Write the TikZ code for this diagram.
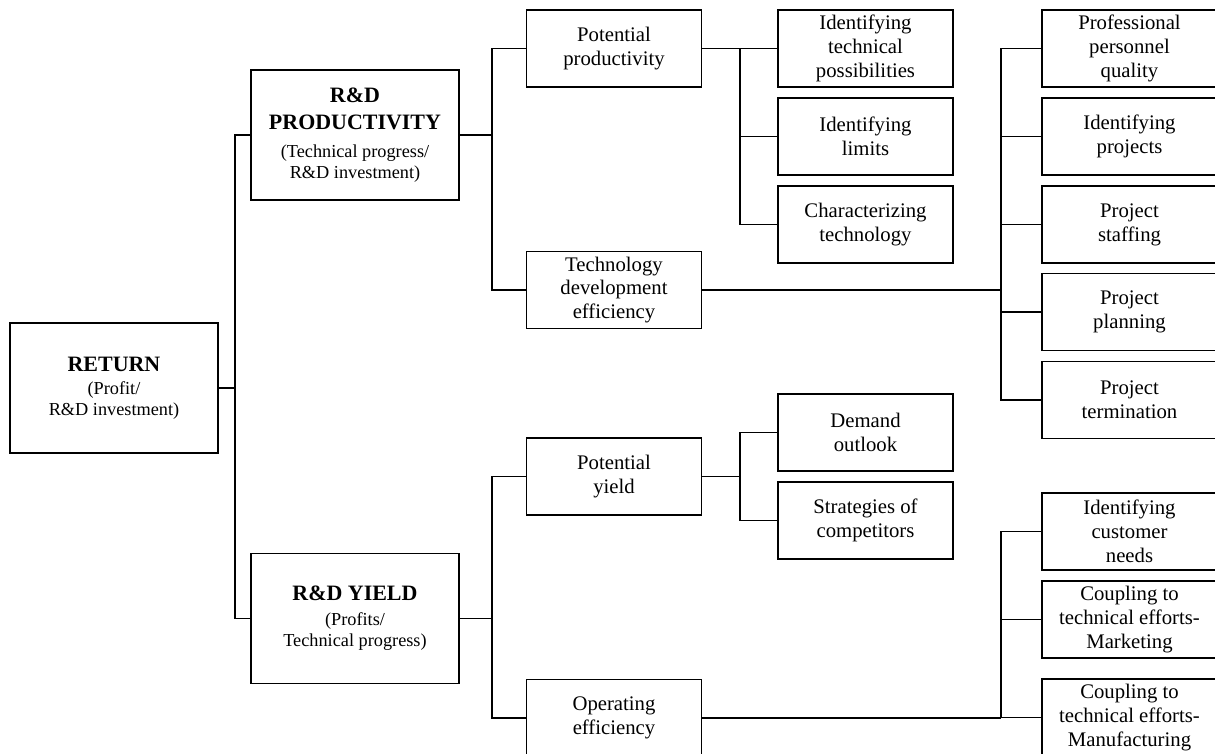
\documentclass[tikz,border=0pt]{standalone}
\usepackage{fontspec}
\setmainfont{Liberation Serif}
\usetikzlibrary{positioning}
\tikzset{
    box/.style = {rectangle, draw=black, line width=0.6pt, minimum width=3.5cm, minimum height=1.54cm, align=center, inner sep=1pt, font=\fontsize{11.8}{13.6}\selectfont},
    bigbox/.style = {box, minimum width=4.16cm, minimum height=2.6cm, font=\fontsize{10.4}{12}\selectfont},
    stem/.style = {line width=1.1pt}, % parent to junction
    branch/.style = {line width=0.6pt}, % junction to children
}
\newcommand{\boxtitle}[1]{{\fontsize{12.5}{15}\selectfont\bfseries #1}}

\begin{document}
\begin{tikzpicture}[x=0.02cm,y=-0.02cm]
\useasboundingbox (0,0) rectangle (1215,754);
\clip (0,0) rectangle (1215,754);
% junction columns
\coordinate (j1) at (235,0);
\coordinate (j2) at (492,0);
\coordinate (j3) at (740,0);
\coordinate (j4) at (1001,0);
%
\node[bigbox] at (114,388) (ret) {\boxtitle{RETURN}\\[1pt](Profit/\\R\&D investment)};
\node[bigbox] at (355,135) (prod) {\boxtitle{R\&D}\\[3.3pt]\boxtitle{PRODUCTIVITY}\\[3.9pt](Technical progress/\\R\&D investment)};
\node[bigbox] at (355,618.5) (yld) {\boxtitle{R\&D YIELD}\\[2pt](Profits/\\Technical progress)};
%
\node[box] at (614,48.5) (pprod) {Potential\\productivity};
\node[box] at (614,290) (tdev) {Technology\\development\\efficiency};
\node[box] at (614,476.5) (pyld) {Potential\\yield};
\node[box] at (614,718) (opeff) {Operating\\efficiency};
%
\node[box] at (865.5,48.5) (itech) {Identifying\\technical\\possibilities};
\node[box] at (865.5,136.5) (ilim) {Identifying\\limits};
\node[box] at (865.5,224.5) (ctech) {Characterizing\\technology};
\node[box] at (865.5,432.5) (dem) {Demand\\outlook};
\node[box] at (865.5,520.5) (strat) {Strategies of\\competitors};
%
\node[box] at (1129.5,48.5) (prof) {Professional\\personnel\\quality};
\node[box] at (1129.5,136.5) (iproj) {Identifying\\projects};
\node[box] at (1129.5,224.5) (staff) {Project\\staffing};
\node[box] at (1129.5,312) (plan) {Project\\planning};
\node[box] at (1129.5,400) (term) {Project\\termination};
\node[box] at (1129.5,531.5) (cust) {Identifying\\customer\\needs};
\node[box] at (1129.5,619.5) (cmkt) {Coupling to\\technical efforts-\\Marketing};
\node[box] at (1129.5,717.5) (cman) {Coupling to\\technical efforts-\\Manufacturing};
%
\draw[stem] (ret.east) -- (ret.east -| j1);
\draw[branch] (prod.west) -- (prod.west -| j1) -- (yld.west -| j1) -- (yld.west);
%
\draw[stem] (prod.east) -- (prod.east -| j2);
\draw[branch] (pprod.west) -- (pprod.west -| j2) -- (tdev.west -| j2) -- (tdev.west);
\draw[stem] (yld.east) -- (yld.east -| j2);
\draw[branch] (pyld.west) -- (pyld.west -| j2) -- (opeff.west -| j2) -- (opeff.west);
%
\draw[stem] (pprod.east) -- (itech.west);
\draw[branch] (itech.west -| j3) -- (ctech.west -| j3) -- (ctech.west);
\draw[branch] (ilim.west -| j3) -- (ilim.west);
\draw[stem] (pyld.east) -- (pyld.east -| j3);
\draw[branch] (dem.west) -- (dem.west -| j3) -- (strat.west -| j3) -- (strat.west);
%
\draw[stem] (tdev.east) -- (tdev.east -| j4);
\draw[branch] (prof.west) -- (prof.west -| j4) -- (term.west -| j4) -- (term.west);
\foreach \n in {iproj,staff,plan} \draw[branch] (\n.west -| j4) -- (\n.west);
\draw[stem] (opeff.east) -- (opeff.east -| j4);
\draw[branch] (cust.west) -- (cust.west -| j4) -- (cman.west -| j4) -- (cman.west);
\draw[branch] (cmkt.west -| j4) -- (cmkt.west);

\end{tikzpicture}
\end{document}
